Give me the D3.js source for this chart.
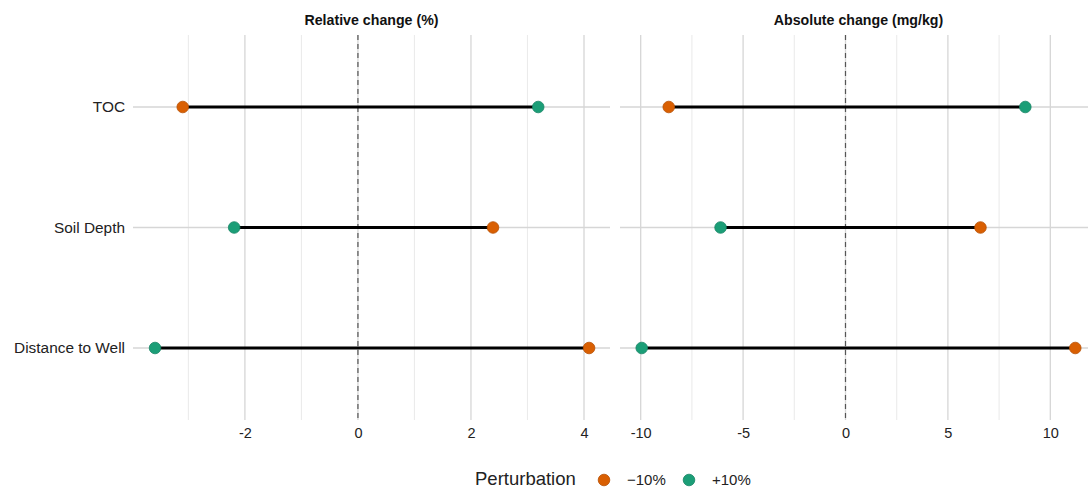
<!DOCTYPE html>
<html>
<head>
<meta charset="utf-8">
<script src="https://cdn.jsdelivr.net/npm/d3@7"></script>
<style>
  body { margin: 0; background: #fff; font-family: "Liberation Sans", Arial, sans-serif; }
  .tick text { fill: #222; font-size: 14.5px; }
</style>
</head>
<body>
<div id="graphic"></div>
<script>
// factors, top to bottom
const factors = ["TOC", "Soil Depth", "Distance to Well"];
const perturbations = ["\u221210%", "+10%"];
const colours = ["#D95F02", "#1B9E77"];

// relative change (%) for -10% and +10%
const relMinus = [-3.10, 2.39, 4.09];
const relPlus = [3.19, -2.19, -3.59];
// absolute change (mg/kg)
const absMinus = [-8.63, 6.59, 11.22];
const absPlus = [8.78, -6.10, -9.95];

const panels = [
  { title: "Relative change (%)", minus: relMinus, plus: relPlus, domain: [-3.98, 4.46],
    major: [-2, 0, 2, 4], minor: [-3, -1, 1, 3], range: [133, 610] },
  { title: "Absolute change (mg/kg)", minus: absMinus, plus: absPlus, domain: [-11.01, 12.28],
    major: [-10, -5, 0, 5, 10], minor: [-7.5, -2.5, 2.5, 7.5], range: [620, 1097] }
];

const width = 1088, height = 489;
const svg = d3.select('#graphic').append('svg').attr('width', width).attr('height', height);

const y = d3.scalePoint().domain(factors).range([107, 348]);
const panelTop = 35, panelBottom = 420;

panels.forEach(function (p, pi) {
  const x = d3.scaleLinear().domain(p.domain).range(p.range);
  const g = svg.append('g');

  // minor grid
  g.selectAll('line.minor').data(p.minor).join('line')
    .attr('x1', d => x(d)).attr('x2', d => x(d))
    .attr('y1', panelTop).attr('y2', panelBottom)
    .attr('stroke', '#ebebeb').attr('stroke-width', 1.1);

  // major grid
  g.selectAll('line.major').data(p.major).join('line')
    .attr('x1', d => x(d)).attr('x2', d => x(d))
    .attr('y1', panelTop).attr('y2', panelBottom)
    .attr('stroke', '#d6d6d6').attr('stroke-width', 1.3);

  g.selectAll('line.hgrid').data(factors).join('line')
    .attr('x1', p.range[0]).attr('x2', p.range[1])
    .attr('y1', d => y(d)).attr('y2', d => y(d))
    .attr('stroke', '#d6d6d6').attr('stroke-width', 1.3);

  // zero line
  g.append('line')
    .attr('x1', x(0)).attr('x2', x(0))
    .attr('y1', panelTop).attr('y2', panelBottom)
    .attr('stroke', '#555').attr('stroke-width', 1.2)
    .attr('stroke-dasharray', '5,4');

  // segments
  g.selectAll('line.seg').data(factors).join('line')
    .attr('x1', (d, i) => x(p.minus[i])).attr('x2', (d, i) => x(p.plus[i]))
    .attr('y1', d => y(d)).attr('y2', d => y(d))
    .attr('stroke', '#000').attr('stroke-width', 3.2);

  // points
  [p.minus, p.plus].forEach(function (vals, k) {
    g.selectAll('circle.s' + k).data(factors).join('circle')
      .attr('cx', (d, i) => x(vals[i])).attr('cy', d => y(d))
      .attr('r', 5.8)
      .attr('fill', colours[k])
      .attr('stroke', d3.color(colours[k]).darker(0.5)).attr('stroke-width', 0.8);
  });

  // x axis
  const ax = g.append('g').attr('transform', 'translate(0,' + panelBottom + ')')
    .call(d3.axisBottom(x).tickValues(p.major).tickSize(0).tickPadding(8).tickFormat(d3.format('d')));
  ax.select('.domain').remove();
  ax.selectAll('text').text(d => String(d).replace('\u2212', '-'));

  // strip title
  svg.append('text')
    .attr('x', (p.range[0] + p.range[1]) / 2).attr('y', 25)
    .attr('text-anchor', 'middle').attr('font-weight', 'bold').attr('font-size', 14.2)
    .attr('fill', '#111')
    .text(p.title);
});

// y axis labels
svg.append('g').selectAll('text').data(factors).join('text')
  .attr('x', 125).attr('y', d => y(d)).attr('dy', '0.35em')
  .attr('text-anchor', 'end').attr('font-size', 15.4).attr('fill', '#222')
  .text(d => d);

// legend
const legend = svg.append('g');
legend.append('text').attr('x', 475).attr('y', 485).attr('font-size', 18.5).attr('fill', '#222').text('Perturbation');
const lx = [604, 689];
perturbations.forEach(function (lab, k) {
  legend.append('circle').attr('cx', lx[k]).attr('cy', 480).attr('r', 5.8)
    .attr('fill', colours[k]).attr('stroke', d3.color(colours[k]).darker(0.5)).attr('stroke-width', 0.8);
  legend.append('text').attr('x', lx[k] + 23).attr('y', 485).attr('font-size', 15).attr('fill', '#222').text(lab);
});
</script>
</body>
</html>
